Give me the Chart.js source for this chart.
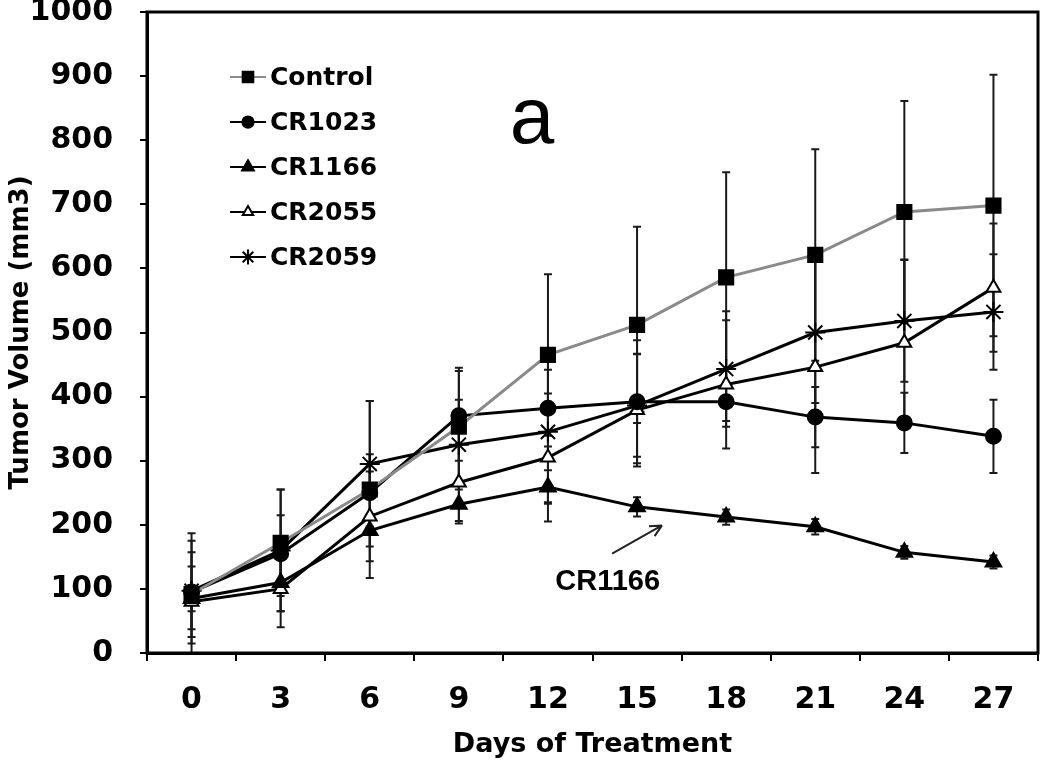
<!DOCTYPE html>
<html>
<head>
<meta charset="utf-8">
<script src="https://cdn.jsdelivr.net/npm/chart.js@4.4.1/dist/chart.umd.min.js"></script>
<style>
  html, body { margin: 0; padding: 0; background: #fff; }
  #wrap { width: 1050px; height: 772px; }
</style>
</head>
<body>
<div id="wrap"><canvas id="tumorChart" width="1050" height="772"></canvas></div>
<script>
// days of treatment (x categories)
const days = ['0', '3', '6', '9', '12', '15', '18', '21', '24', '27'];

// mean tumor volume (mm3) per group
const control = [92, 172, 255, 353, 465, 512, 586, 621, 688, 698];
const cr1023  = [95, 155, 250, 370, 382, 392, 392, 368, 359, 338];
const cr1166  = [85, 110, 191, 232, 259, 228, 212, 197, 157, 142];
const cr2055  = [80, 100, 213, 266, 305, 379, 419, 446, 484, 570];
const cr2059  = [97, 160, 295, 325, 345, 386, 443, 500, 518, 532];

// error bar sizes (+/-)
const controlErr = [95, 83, 138, 92, 126, 153, 164, 165, 173, 204];
const cr1023Err  = [80, 60, 60, 70, 60, 96, 30, 47, 47, 57];
const cr1166Err  = [20, 45, 25, 30, 26, 15, 12, 12, 10, 10];
const cr2055Err  = [55, 60, 70, 60, 100, 88, 100, 165, 130, 100];
const cr2059Err  = [60, 95, 98, 70, 110, 80, 90, 110, 95, 90];

const boldFont = 'DejaVu Sans';

const errorBars = {
  id: 'errorBars',
  beforeDatasetsDraw(chart) {
    const { ctx, chartArea, scales: { x, y } } = chart;
    ctx.save();
    ctx.beginPath();
    ctx.rect(chartArea.left, chartArea.top - 2, chartArea.right - chartArea.left, chartArea.bottom - chartArea.top + 2);
    ctx.clip();
    ctx.strokeStyle = '#1a1a1a';
    ctx.lineWidth = 2;
    chart.data.datasets.forEach((ds) => {
      if (!ds.errors) return;
      ds.data.forEach((v, j) => {
        const px = x.getPixelForValue(j);
        const hi = y.getPixelForValue(v + ds.errors[j]);
        const lo = y.getPixelForValue(v - ds.errors[j]);
        ctx.beginPath();
        ctx.moveTo(px, hi);
        ctx.lineTo(px, lo);
        ctx.moveTo(px - 4, hi);
        ctx.lineTo(px + 4, hi);
        ctx.moveTo(px - 4, lo);
        ctx.lineTo(px + 4, lo);
        ctx.stroke();
      });
    });
    ctx.restore();
  }
};

const frameAndNotes = {
  id: 'frameAndNotes',
  afterDraw(chart) {
    const { ctx, chartArea: a, scales: { x, y } } = chart;
    ctx.save();
    // box around plot
    ctx.strokeStyle = '#000';
    ctx.lineWidth = 3;
    ctx.strokeRect(a.left, a.top, a.right - a.left, a.bottom - a.top);

    // legend inside the plot
    const rows = [77, 122, 167, 212, 257];
    chart.data.datasets.forEach((ds, i) => {
      const ly = rows[i];
      const lx = a.left + 83;
      ctx.strokeStyle = ds.borderColor;
      ctx.lineWidth = 2;
      ctx.beginPath();
      ctx.moveTo(lx, ly);
      ctx.lineTo(lx + 36, ly);
      ctx.stroke();
      ctx.fillStyle = ds.pointBackgroundColor;
      ctx.strokeStyle = ds.pointBorderColor;
      ctx.lineWidth = ds.pointBorderWidth;
      Chart.helpers.drawPoint(ctx, {
        pointStyle: ds.pointStyle,
        radius: ds.pointRadius * 0.75,
        borderWidth: ds.pointBorderWidth,
        rotation: 0
      }, lx + 18, ly);
      ctx.fillStyle = '#000';
      ctx.font = 'bold 25px "' + boldFont + '"';
      ctx.textAlign = 'left';
      ctx.textBaseline = 'middle';
      ctx.fillText(ds.label, lx + 40, ly + 1);
    });

    // panel letter
    ctx.fillStyle = '#000';
    ctx.font = '80px "Liberation Sans"';
    ctx.textAlign = 'center';
    ctx.textBaseline = 'alphabetic';
    ctx.fillText('a', x.getPixelForValue(3.82), y.getPixelForValue(795));

    // CR1166 callout
    ctx.font = 'bold 29px "Liberation Sans"';
    ctx.fillText('CR1166', x.getPixelForValue(4.67), y.getPixelForValue(98));
    const x1 = x.getPixelForValue(4.72), y1 = y.getPixelForValue(155);
    const x2 = x.getPixelForValue(5.28), y2 = y.getPixelForValue(199);
    const ang = Math.atan2(y2 - y1, x2 - x1);
    ctx.strokeStyle = '#222';
    ctx.lineWidth = 2;
    ctx.beginPath();
    ctx.moveTo(x1, y1);
    ctx.lineTo(x2, y2);
    ctx.moveTo(x2, y2);
    ctx.lineTo(x2 - 13 * Math.cos(ang - 0.45), y2 - 13 * Math.sin(ang - 0.45));
    ctx.moveTo(x2, y2);
    ctx.lineTo(x2 - 13 * Math.cos(ang + 0.45), y2 - 13 * Math.sin(ang + 0.45));
    ctx.stroke();
    ctx.restore();
  }
};

function series(label, data, errors, color, style, radius, fill) {
  return {
    label: label,
    data: data,
    errors: errors,
    borderColor: color,
    borderWidth: 3,
    pointStyle: style,
    pointRadius: radius,
    pointBackgroundColor: fill,
    pointBorderColor: '#000',
    pointBorderWidth: 2,
    tension: 0,
    fill: false
  };
}

new Chart(document.getElementById('tumorChart'), {
  type: 'line',
  data: {
    labels: days,
    datasets: [
      series('Control', control, controlErr, '#8a8a8a', 'rect', 10, '#000'),
      series('CR1023', cr1023, cr1023Err, '#000', 'circle', 7.5, '#000'),
      series('CR1166', cr1166, cr1166Err, '#000', 'triangle', 9, '#000'),
      series('CR2055', cr2055, cr2055Err, '#000', 'triangle', 8, '#fff'),
      series('CR2059', cr2059, cr2059Err, '#000', 'star', 10, '#000')
    ]
  },
  options: {
    responsive: false,
    animation: false,
    layout: { padding: { top: 10, right: 12, left: 0, bottom: 0 } },
    plugins: {
      legend: { display: false },
      tooltip: { enabled: false }
    },
    scales: {
      x: {
        type: 'category',
        offset: true,
        grid: { offset: true, drawOnChartArea: false, drawTicks: true, tickLength: 8, color: '#000', lineWidth: 2 },
        border: { display: true, color: '#000', width: 3 },
        ticks: { color: '#000', padding: 21, maxRotation: 0, font: { family: boldFont, size: 30, weight: 'bold' } },
        title: {
          display: true,
          text: 'Days of Treatment',
          color: '#000',
          font: { family: boldFont, size: 27, weight: 'bold' },
          padding: { top: 0, bottom: 11 }
        },
        afterFit: (s) => { s.height = 119; s.paddingLeft = 0; s.paddingRight = 0; }
      },
      y: {
        min: 0,
        max: 1000,
        grid: { drawOnChartArea: false, drawTicks: true, tickLength: 7, color: '#000', lineWidth: 2 },
        border: { display: true, color: '#000', width: 3 },
        ticks: {
          stepSize: 100,
          color: '#000',
          padding: 27,
          font: { family: boldFont, size: 30, weight: 'bold' },
          callback: (v) => String(v)
        },
        title: {
          display: true,
          text: 'Tumor Volume (mm3)',
          color: '#000',
          font: { family: boldFont, size: 26, weight: 'bold' },
          padding: { top: 6, bottom: 0 }
        },
        afterFit: (s) => { s.width = 147; s.paddingTop = 0; s.paddingBottom = 0; }
      }
    }
  },
  plugins: [errorBars, frameAndNotes]
});
</script>
</body>
</html>
